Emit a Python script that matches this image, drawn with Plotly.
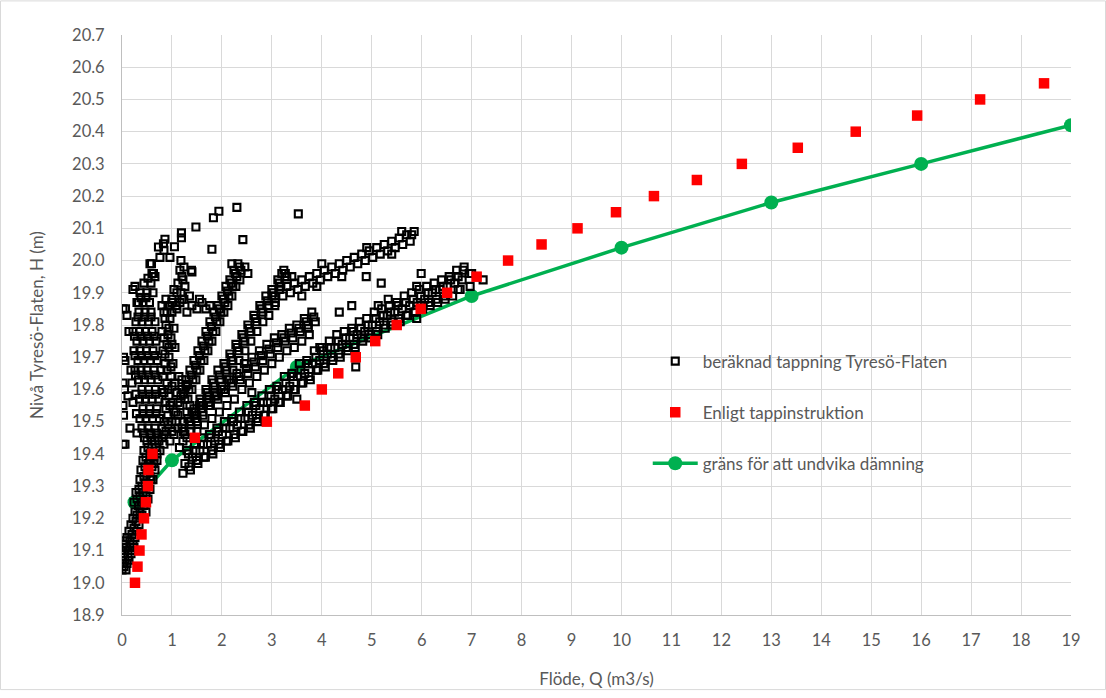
import plotly.graph_objects as go

# ---------------- data ----------------
# Enligt tappinstruktion (red squares)
red_q = [0.26, 0.31, 0.35, 0.39, 0.44, 0.48, 0.52, 0.53, 0.61, 1.46, 2.90, 3.66, 4.00, 4.33, 4.68,
         5.07, 5.50, 5.98, 6.51, 7.10, 7.73, 8.40, 9.12, 9.89, 10.65, 11.51, 12.41, 13.53, 14.69,
         15.92, 17.18, 18.46]
red_h = [19.00, 19.05, 19.10, 19.15, 19.20, 19.25, 19.30, 19.35, 19.40, 19.45, 19.50, 19.55, 19.60,
         19.65, 19.70, 19.75, 19.80, 19.85, 19.90, 19.95, 20.00, 20.05, 20.10, 20.15, 20.20, 20.25,
         20.30, 20.35, 20.40, 20.45, 20.50, 20.55]

# gräns för att undvika dämning (green line)
green_q = [0.25, 1.0, 3.5, 7.0, 10.0, 13.0, 16.0, 19.0]
green_h = [19.25, 19.38, 19.67, 19.89, 20.04, 20.18, 20.30, 20.42]

# beräknad tappning Tyresö-Flaten (black open squares), read branch by branch
stem = [(0.00, 19.04), (0.04, 19.05), (0.08, 19.04), (0.02, 19.06), (0.10, 19.06), (0.14, 19.07),
        (0.05, 19.09), (0.00, 19.10), (0.03, 19.12), (0.08, 19.11), (0.12, 19.10), (0.18, 19.09),
        (0.06, 19.13), (0.10, 19.14), (0.16, 19.13), (0.22, 19.12), (0.20, 19.15), (0.26, 19.14),
        (0.24, 19.17), (0.30, 19.16), (0.28, 19.19), (0.34, 19.18), (0.30, 19.21), (0.36, 19.22),
        (0.40, 19.21), (0.33, 19.24), (0.40, 19.25), (0.44, 19.24), (0.36, 19.27), (0.42, 19.28),
        (0.48, 19.27), (0.40, 19.30), (0.46, 19.31), (0.52, 19.30), (0.44, 19.33), (0.50, 19.34),
        (0.56, 19.33), (0.62, 19.32), (0.46, 19.36), (0.53, 19.37), (0.60, 19.36), (0.66, 19.35),
        (0.48, 19.39), (0.56, 19.40), (0.64, 19.39), (0.70, 19.38), (0.52, 19.42), (0.60, 19.43),
        (0.68, 19.42), (0.76, 19.41), (0.84, 19.43),
        (0.02, 19.08), (0.06, 19.07), (0.12, 19.08), (0.16, 19.11), (0.20, 19.10), (0.24, 19.11),
        (0.14, 19.16), (0.18, 19.18), (0.22, 19.20), (0.26, 19.22), (0.24, 19.25), (0.30, 19.26),
        (0.34, 19.29), (0.28, 19.28), (0.36, 19.32), (0.38, 19.35), (0.42, 19.38), (0.44, 19.41),
        (0.50, 19.44), (0.58, 19.46), (0.66, 19.44), (0.56, 19.38), (0.62, 19.40), (0.70, 19.40),
        (0.48, 19.22), (0.52, 19.26), (0.56, 19.29), (0.58, 19.32), (0.64, 19.37), (0.74, 19.44)]

left_col = [(0.45, 19.45), (0.58, 19.45), (0.72, 19.45), (0.40, 19.48), (0.52, 19.48), (0.66, 19.48),
            (0.80, 19.48), (0.36, 19.51), (0.48, 19.51), (0.61, 19.51), (0.75, 19.51), (0.42, 19.54),
            (0.55, 19.54), (0.70, 19.54), (0.22, 19.56), (0.35, 19.57), (0.47, 19.57), (0.60, 19.57),
            (0.74, 19.57), (0.40, 19.60), (0.53, 19.60), (0.67, 19.60), (0.20, 19.62), (0.33, 19.63),
            (0.45, 19.63), (0.58, 19.63), (0.72, 19.63), (0.26, 19.66), (0.38, 19.66), (0.50, 19.66),
            (0.64, 19.66), (0.32, 19.69), (0.44, 19.69), (0.57, 19.69), (0.70, 19.69), (0.24, 19.72),
            (0.36, 19.72), (0.49, 19.72), (0.62, 19.72), (0.30, 19.75), (0.42, 19.75), (0.55, 19.75),
            (0.68, 19.75), (0.22, 19.78), (0.35, 19.78), (0.47, 19.78), (0.60, 19.78), (0.28, 19.81),
            (0.40, 19.81), (0.53, 19.81), (0.66, 19.81), (0.34, 19.84), (0.46, 19.84), (0.58, 19.84),
            (0.30, 19.87), (0.42, 19.87), (0.55, 19.87), (0.36, 19.90), (0.50, 19.90), (0.62, 19.90),
            (0.44, 19.93), (0.58, 19.93), (0.60, 19.96), (0.66, 19.95), (0.56, 19.99), (0.26, 19.92),
            (0.22, 19.91),
            (0.30, 19.465), (0.43, 19.465), (0.56, 19.465), (0.69, 19.465), (0.29, 19.525), (0.42, 19.525),
            (0.55, 19.525), (0.68, 19.525), (0.28, 19.585), (0.41, 19.585), (0.54, 19.585), (0.67, 19.585),
            (0.27, 19.645), (0.40, 19.645), (0.53, 19.645), (0.66, 19.645), (0.26, 19.705), (0.39, 19.705),
            (0.52, 19.705), (0.65, 19.705), (0.25, 19.765), (0.38, 19.765), (0.51, 19.765), (0.64, 19.765),
            (0.32, 19.825), (0.45, 19.825), (0.58, 19.825), (0.38, 19.885), (0.48, 19.885), (0.52, 19.945)]

mid_col = [(0.80, 19.45), (0.88, 19.47), (0.96, 19.44), (1.04, 19.46), (1.12, 19.48), (0.84, 19.50),
           (0.92, 19.52), (1.00, 19.50), (1.08, 19.53), (1.16, 19.55), (0.86, 19.56), (0.94, 19.58),
           (1.02, 19.56), (1.10, 19.59), (0.80, 19.60), (0.90, 19.62), (0.98, 19.64), (1.06, 19.62),
           (0.78, 19.66), (0.86, 19.68), (0.94, 19.70), (1.02, 19.68), (0.82, 19.72), (0.90, 19.74),
           (0.98, 19.76), (1.06, 19.73), (0.80, 19.78), (0.88, 19.80), (0.96, 19.82), (1.04, 19.79),
           (0.84, 19.84), (0.92, 19.86), (1.00, 19.88), (1.08, 19.86), (1.16, 19.87), (1.24, 19.88),
           (1.04, 19.91), (1.12, 19.93), (1.20, 19.95), (1.26, 19.92), (1.16, 19.97), (1.24, 19.98),
           (1.18, 20.00),
           (0.84, 19.46), (0.92, 19.49), (1.00, 19.47), (1.08, 19.50), (0.88, 19.54), (0.96, 19.55),
           (1.04, 19.53), (1.12, 19.56), (0.84, 19.59), (0.92, 19.60), (1.00, 19.61), (0.82, 19.64),
           (0.90, 19.66), (0.98, 19.67), (0.86, 19.71), (0.94, 19.73), (0.84, 19.76), (0.92, 19.77),
           (1.00, 19.74), (0.86, 19.82), (0.94, 19.79), (1.00, 19.84), (0.88, 19.88), (0.96, 19.86),
           (1.10, 19.90), (1.18, 19.90), (1.22, 19.94),
           (1.15, 19.42), (1.22, 19.44), (1.30, 19.45), (1.38, 19.47), (1.12, 19.52), (1.18, 19.58),
           (1.14, 19.64), (1.24, 19.50), (1.30, 19.53), (1.36, 19.55), (1.28, 19.61), (1.20, 19.63)]

bridge = [(0.80, 19.86), (0.90, 19.84), (1.00, 19.87), (1.10, 19.85), (1.20, 19.88), (1.30, 19.84),
          (1.40, 19.86), (1.50, 19.85), (1.60, 19.87), (1.68, 19.85), (1.76, 19.86), (1.35, 19.89),
          (1.55, 19.88)]

band_t = [(1.20, 19.60), (1.28, 19.63), (1.36, 19.66), (1.44, 19.69), (1.52, 19.72), (1.60, 19.75),
          (1.68, 19.78), (1.76, 19.81), (1.84, 19.84), (1.92, 19.86), (2.00, 19.89), (2.08, 19.92),
          (2.16, 19.94), (2.24, 19.97), (2.32, 19.99), (1.26, 19.57), (1.34, 19.60), (1.42, 19.63),
          (1.50, 19.66), (1.58, 19.69), (1.66, 19.72), (1.74, 19.75), (1.82, 19.78), (1.90, 19.81),
          (1.98, 19.84), (2.06, 19.87), (2.14, 19.89), (2.22, 19.92), (2.30, 19.95), (2.38, 19.97),
          (2.46, 19.98), (2.52, 19.96), (2.20, 19.99),
          (1.23, 19.585), (1.31, 19.615), (1.39, 19.645), (1.47, 19.675), (1.55, 19.705), (1.63, 19.735),
          (1.71, 19.765), (1.79, 19.795), (1.87, 19.825), (1.95, 19.85), (2.03, 19.88), (2.11, 19.905),
          (2.19, 19.93), (2.27, 19.96), (2.35, 19.98),
          (1.32, 19.57), (1.40, 19.60), (1.48, 19.63), (1.56, 19.66), (1.64, 19.69), (1.72, 19.72),
          (1.80, 19.75), (1.88, 19.78), (1.96, 19.81), (2.04, 19.84), (2.12, 19.86), (2.20, 19.89),
          (2.28, 19.92), (2.36, 19.94)]

band_s = [(1.20, 19.48), (1.32, 19.51), (1.44, 19.54), (1.56, 19.57), (1.68, 19.60), (1.80, 19.63),
          (1.92, 19.66), (2.04, 19.68), (2.16, 19.71), (2.28, 19.74), (2.40, 19.77), (2.52, 19.80),
          (2.64, 19.83), (2.76, 19.86), (2.88, 19.89), (3.00, 19.91), (3.12, 19.94), (3.24, 19.97),
          (1.26, 19.46), (1.38, 19.49), (1.50, 19.52), (1.62, 19.55), (1.74, 19.58), (1.86, 19.61),
          (1.98, 19.63), (2.10, 19.66), (2.22, 19.69), (2.34, 19.72), (2.46, 19.75), (2.58, 19.78),
          (2.70, 19.81), (2.82, 19.84), (2.94, 19.86), (3.06, 19.89), (3.18, 19.92), (3.30, 19.95),
          (3.20, 19.96),
          (1.23, 19.47), (1.35, 19.50), (1.47, 19.53), (1.59, 19.56), (1.71, 19.59), (1.83, 19.62),
          (1.95, 19.645), (2.07, 19.67), (2.19, 19.70), (2.31, 19.73), (2.43, 19.76), (2.55, 19.79),
          (2.67, 19.82), (2.79, 19.85), (2.91, 19.875), (3.03, 19.90), (3.15, 19.93), (3.27, 19.96),
          (1.50, 19.50), (1.62, 19.52), (1.74, 19.55), (1.86, 19.58), (1.98, 19.60), (2.10, 19.63),
          (2.22, 19.66), (2.34, 19.69), (2.46, 19.72), (2.58, 19.75), (2.70, 19.78), (2.82, 19.81),
          (2.94, 19.83), (3.06, 19.86)]

band_m = [(1.40, 19.53), (1.55, 19.55), (1.70, 19.57), (1.85, 19.59), (2.00, 19.61), (2.15, 19.63),
          (2.30, 19.65), (2.45, 19.68), (2.60, 19.70), (2.75, 19.72), (2.90, 19.74), (3.05, 19.76),
          (3.20, 19.77), (3.35, 19.79), (3.50, 19.80), (3.65, 19.82), (3.80, 19.84), (1.47, 19.51),
          (1.62, 19.53), (1.77, 19.55), (1.92, 19.57), (2.07, 19.59), (2.22, 19.61), (2.37, 19.63),
          (2.52, 19.65), (2.67, 19.67), (2.82, 19.69), (2.97, 19.71), (3.12, 19.73), (3.27, 19.75),
          (3.42, 19.76), (3.57, 19.78), (3.72, 19.80), (3.87, 19.81),
          (1.44, 19.52), (1.59, 19.54), (1.74, 19.56), (1.89, 19.58), (2.04, 19.60), (2.19, 19.62),
          (2.34, 19.64), (2.49, 19.665), (2.64, 19.685), (2.79, 19.705), (2.94, 19.725), (3.09, 19.745),
          (3.24, 19.76), (3.39, 19.775), (3.54, 19.79), (3.69, 19.81), (3.84, 19.825),
          (1.50, 19.47), (1.65, 19.49), (1.80, 19.51), (1.95, 19.53), (2.10, 19.55), (2.25, 19.57),
          (2.40, 19.60), (2.55, 19.62), (2.70, 19.64), (2.85, 19.66), (3.00, 19.68), (3.15, 19.70),
          (3.30, 19.72), (3.45, 19.73), (3.60, 19.75), (3.75, 19.77)]

band_u = [(3.00, 19.89), (3.15, 19.91), (3.30, 19.92), (3.45, 19.93), (3.60, 19.94), (3.75, 19.95),
          (3.90, 19.96), (4.05, 19.97), (4.20, 19.98), (4.35, 19.99), (4.50, 20.00), (4.65, 20.01),
          (4.80, 20.02), (4.95, 20.03), (5.10, 20.04), (5.25, 20.05), (5.40, 20.06), (5.55, 20.07),
          (5.70, 20.08), (5.85, 20.09), (3.07, 19.87), (3.22, 19.89), (3.37, 19.90), (3.52, 19.91),
          (3.67, 19.92), (3.82, 19.93), (3.97, 19.94), (4.12, 19.95), (4.27, 19.96), (4.42, 19.97),
          (4.57, 19.98), (4.72, 19.99), (4.87, 20.00), (5.02, 20.01), (5.17, 20.02), (5.32, 20.03),
          (5.47, 20.04), (5.62, 20.05), (5.77, 20.06), (5.80, 20.08),
          (3.40, 19.95), (3.90, 19.92), (4.40, 19.95), (4.90, 20.04), (5.40, 20.02), (5.60, 20.09),
          (4.00, 19.99), (3.60, 19.89)]

band_a = [(1.30, 19.41), (1.45, 19.43), (1.60, 19.45), (1.75, 19.46), (1.90, 19.48), (2.05, 19.50),
          (2.20, 19.51), (2.35, 19.53), (2.50, 19.55), (2.65, 19.56), (2.80, 19.58), (2.95, 19.60),
          (3.10, 19.61), (3.25, 19.64), (3.40, 19.65), (3.55, 19.68), (3.70, 19.69), (3.85, 19.72),
          (4.00, 19.73), (4.15, 19.75), (4.30, 19.77), (4.45, 19.78), (4.60, 19.79), (4.75, 19.81),
          (4.90, 19.82), (5.05, 19.84), (5.20, 19.85), (5.35, 19.86), (5.50, 19.87), (5.65, 19.89),
          (5.80, 19.90), (5.95, 19.91), (6.10, 19.92), (6.25, 19.93), (6.40, 19.94), (6.55, 19.95),
          (6.70, 19.97), (6.85, 19.98),
          (1.26, 19.37), (1.41, 19.39), (1.56, 19.41), (1.71, 19.43), (1.86, 19.44), (2.01, 19.46),
          (2.16, 19.48), (2.31, 19.49), (2.46, 19.51), (2.61, 19.52), (2.76, 19.54), (2.91, 19.56),
          (3.06, 19.57), (3.21, 19.60), (3.36, 19.61), (3.51, 19.64), (3.66, 19.65), (3.81, 19.68),
          (3.96, 19.69), (4.11, 19.71), (4.26, 19.73), (4.41, 19.74), (4.56, 19.76), (4.71, 19.77),
          (4.86, 19.78), (5.01, 19.80), (5.16, 19.81), (5.31, 19.83), (5.46, 19.84), (5.61, 19.85),
          (5.76, 19.86), (5.91, 19.87), (6.06, 19.88), (6.21, 19.90), (6.36, 19.91), (6.51, 19.92),
          (6.66, 19.93), (6.81, 19.94), (6.95, 19.96),
          (1.22, 19.34), (1.37, 19.35), (1.52, 19.37), (1.67, 19.39), (1.82, 19.40), (1.97, 19.42),
          (2.12, 19.44), (2.27, 19.45), (2.42, 19.47), (2.57, 19.48), (2.72, 19.50), (2.87, 19.52),
          (3.02, 19.54), (3.17, 19.56), (3.32, 19.58), (3.47, 19.60), (3.62, 19.62), (3.77, 19.63),
          (3.92, 19.66), (4.07, 19.67), (4.22, 19.69), (4.37, 19.70), (4.52, 19.72), (4.67, 19.73),
          (4.82, 19.75), (4.97, 19.76), (5.12, 19.77), (5.27, 19.79), (5.42, 19.80), (5.57, 19.81),
          (5.72, 19.83), (5.87, 19.84), (6.02, 19.85), (6.17, 19.86), (6.32, 19.87), (6.47, 19.88),
          (6.62, 19.89), (6.77, 19.91),
          (1.33, 19.40), (1.48, 19.41), (1.63, 19.43), (1.78, 19.45), (1.93, 19.47), (2.08, 19.48),
          (2.23, 19.50), (2.38, 19.51), (2.53, 19.53), (2.68, 19.55), (2.83, 19.56), (2.98, 19.58),
          (3.13, 19.60), (3.28, 19.62), (3.43, 19.64), (3.58, 19.66), (3.73, 19.68), (3.88, 19.70),
          (4.03, 19.72), (4.18, 19.73), (4.33, 19.75), (4.48, 19.76), (4.63, 19.78), (4.78, 19.79),
          (4.93, 19.80), (5.08, 19.82), (5.23, 19.83), (5.38, 19.84), (5.53, 19.86), (5.68, 19.87),
          (5.83, 19.88), (5.98, 19.89), (6.13, 19.90), (6.28, 19.91), (6.43, 19.92), (6.58, 19.94),
          (6.73, 19.95),
          (1.34, 19.36), (1.49, 19.38), (1.64, 19.39), (1.79, 19.41), (1.94, 19.43), (2.09, 19.44),
          (2.24, 19.46), (2.39, 19.47), (2.54, 19.49), (2.69, 19.51), (2.84, 19.52), (2.99, 19.54),
          (3.14, 19.56), (3.29, 19.58), (3.44, 19.60), (3.59, 19.62), (3.74, 19.64), (3.89, 19.66),
          (4.04, 19.68), (4.19, 19.70), (4.34, 19.71), (4.49, 19.73), (4.64, 19.74), (4.79, 19.76),
          (4.94, 19.77), (5.09, 19.78), (5.24, 19.80), (5.39, 19.81), (5.54, 19.82), (5.69, 19.83),
          (5.84, 19.84), (5.99, 19.86), (6.14, 19.87), (6.29, 19.88), (6.44, 19.89)]

near_axis = [(0.02, 19.85), (0.07, 19.85), (0.03, 19.70), (0.06, 19.69), (0.02, 19.62), (0.05, 19.60),
             (0.02, 19.55), (0.03, 19.52), (0.02, 19.43), (0.06, 19.43), (0.16, 19.48), (0.12, 19.58),
             (0.18, 19.66), (0.14, 19.78), (0.33, 19.87), (0.10, 19.83)]

outliers = [(2.30, 20.165), (1.94, 20.153), (1.83, 20.133), (1.48, 20.104), (1.19, 20.086),
            (1.19, 20.071), (0.86, 20.066), (0.83, 20.052), (0.73, 20.042), (0.84, 20.032),
            (1.05, 20.043), (1.80, 20.035), (0.76, 20.010), (0.96, 20.010), (3.53, 20.145),
            (2.42, 20.065), (1.39, 19.970), (0.59, 19.990), (0.63, 19.960), (1.40, 19.965),
            (5.99, 19.960), (5.19, 19.930), (4.89, 19.950), (5.90, 19.920), (4.68, 19.670),
            (3.50, 19.570), (6.73, 19.910), (6.97, 19.920), (7.23, 19.940), (6.83, 19.970),
            (7.00, 19.960), (7.10, 19.950), (5.90, 19.820), (5.33, 19.880), (5.13, 19.860),
            (3.96, 19.730), (4.35, 19.840), (4.60, 19.860), (3.73, 19.790), (2.60, 19.590)]

calc_points = (stem + left_col + mid_col + bridge + band_t + band_s + band_m + band_u + band_a
               + near_axis + outliers)
calc_q = [p[0] for p in calc_points]
calc_h = [p[1] for p in calc_points]

# ---------------- figure ----------------
FONT = "Lato"
GREY_TXT = "#595959"
GRID = "#d9d9d9"
W, H = 1106, 698
ML, MR, MT, MB = 122, 35, 35, 76
PW, PH = W - ML - MR, H - MT - MB

fig = go.Figure()

fig.add_trace(go.Scatter(
    x=green_q, y=green_h, mode="lines+markers", name="gräns för att undvika dämning",
    line=dict(color="#00b050", width=3.5),
    marker=dict(color="#00b050", size=14, symbol="circle"),
    legendrank=3, legendgroup="g3"))

fig.add_trace(go.Scatter(
    x=calc_q, y=calc_h, mode="markers", name="beräknad tappning Tyresö-Flaten",
    marker=dict(symbol="square-open", size=7, color="black", line=dict(width=2.1, color="black")),
    legendrank=1, legendgroup="g1"))

fig.add_trace(go.Scatter(
    x=red_q, y=red_h, mode="markers", name="Enligt tappinstruktion",
    marker=dict(symbol="square", size=10.5, color="#ff0000"),
    legendrank=2, legendgroup="g2"))

fig.update_layout(
    width=W, height=H,
    paper_bgcolor="white", plot_bgcolor="white",
    margin=dict(l=ML, r=MR, t=MT, b=MB),
    font=dict(family=FONT, size=16, color=GREY_TXT),
    showlegend=True,
    legend=dict(x=0.554, y=0.468, xanchor="left", yanchor="top",
                bgcolor="rgba(0,0,0,0)", font=dict(size=17, color=GREY_TXT),
                tracegroupgap=26, itemwidth=45),
    xaxis=dict(range=[0, 19], dtick=1, tick0=0, showgrid=True, gridcolor=GRID, gridwidth=1,
               zeroline=False, showline=True, linecolor="#bfbfbf", linewidth=1,
               ticks="", ticklabelstandoff=10,
               tickfont=dict(size=16.5, color=GREY_TXT),
               title=dict(text="Flöde, Q (m3/s)", font=dict(size=17, color=GREY_TXT), standoff=24)),
    yaxis=dict(range=[18.9, 20.7], dtick=0.1, tick0=18.9, tickformat=".1f", showgrid=True,
               gridcolor=GRID, gridwidth=1, zeroline=False, showline=True, linecolor="#bfbfbf",
               linewidth=1, ticks="", ticklabelstandoff=13,
               tickfont=dict(size=16.5, color=GREY_TXT),
               title=dict(text="Nivå Tyresö-Flaten, H (m)", font=dict(size=17, color=GREY_TXT), standoff=24)),
    shapes=[dict(type="rect", xref="paper", yref="paper",
                 x0=(0.5 - ML) / PW, x1=(W - 0.5 - ML) / PW,
                 y0=(MT + PH - (H - 0.5)) / PH, y1=(MT + PH - 0.5) / PH,
                 line=dict(color="#d9d9d9", width=1), fillcolor="rgba(0,0,0,0)", layer="below")],
)

fig.write_html("out.html", config={"displayModeBar": False},
               post_script="document.body.style.margin='0px';")
